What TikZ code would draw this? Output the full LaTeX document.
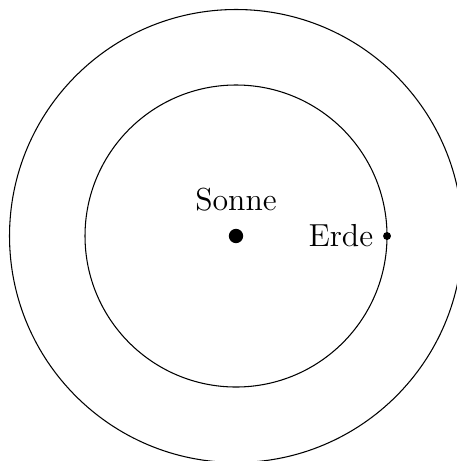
\documentclass[tikz,border=0pt]{standalone}
\usepackage{tikz}
\usetikzlibrary{positioning}

\begin{document}
\begin{tikzpicture}[dot/.style={circle, fill, inner sep=0pt}, font=\large]
    \useasboundingbox (-3.126,-2.98) rectangle (2.914,3.126);
    \draw (0,0) circle (2);
    \draw (0,0) circle (3);

    \node[dot, minimum size=1.9mm] (sonne) at (0,0) {};
    \node[dot, minimum size=1.05mm] (erde) at (2,0) {};
    \node[above=0.1cm of sonne] (sonnelabel) {Sonne};
    \node[left=0cm of erde] (erdelabel) {Erde};
\end{tikzpicture}
\end{document}
